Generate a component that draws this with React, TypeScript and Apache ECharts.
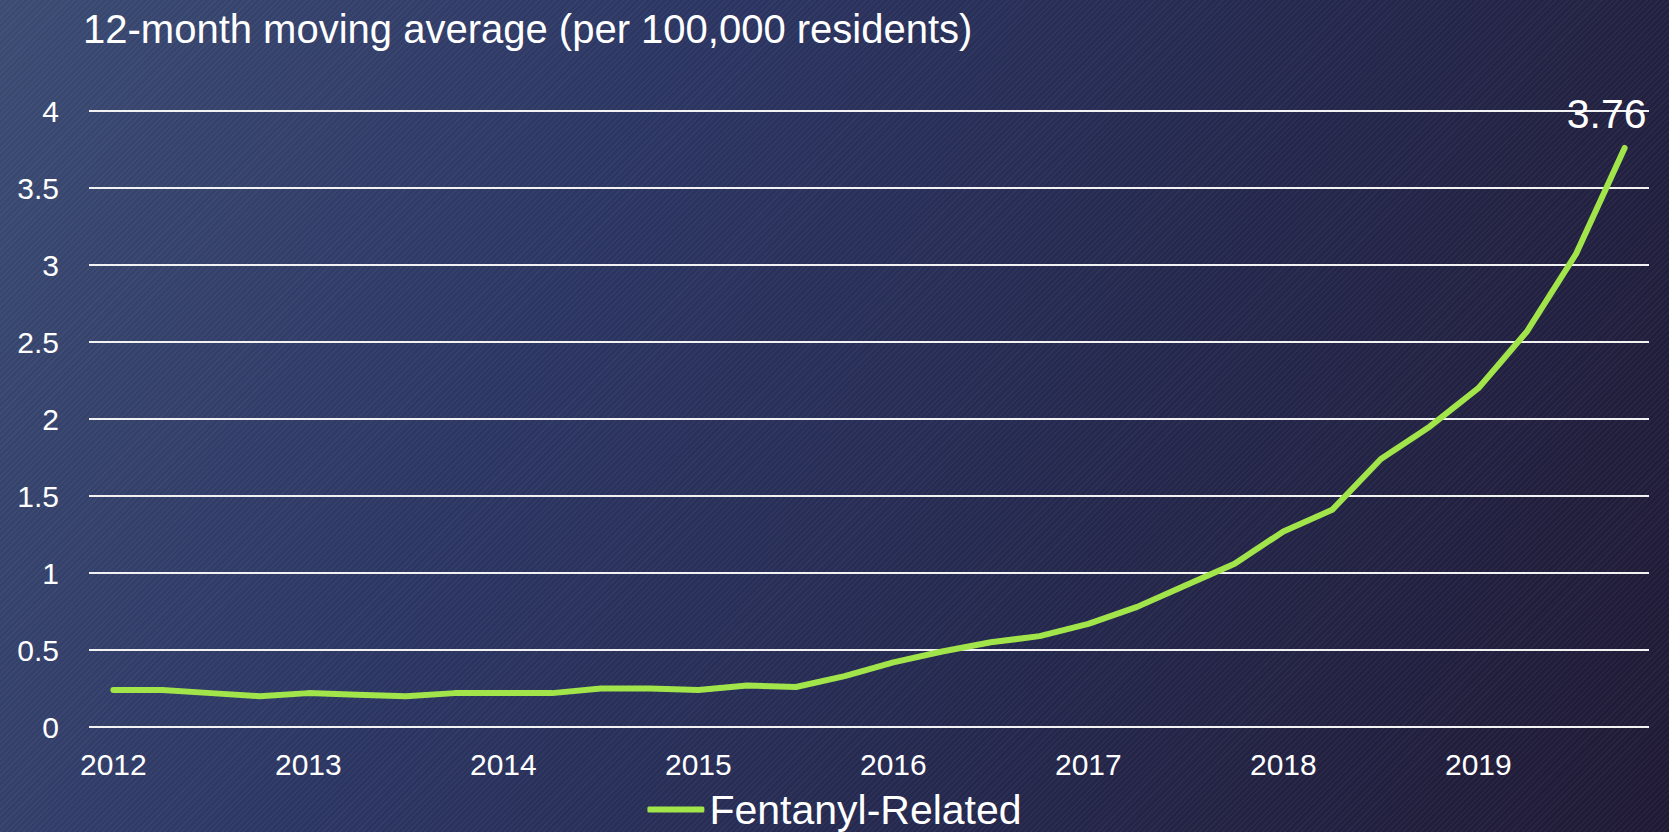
import React, { useEffect, useRef } from "react";
import * as echarts from "echarts";

const titleText = "12-month moving average (per 100,000 residents)";
const seriesName = "Fentanyl-Related";

const quarters = [
  "2012 Q1", "2012 Q2", "2012 Q3", "2012 Q4",
  "2013 Q1", "2013 Q2", "2013 Q3", "2013 Q4",
  "2014 Q1", "2014 Q2", "2014 Q3", "2014 Q4",
  "2015 Q1", "2015 Q2", "2015 Q3", "2015 Q4",
  "2016 Q1", "2016 Q2", "2016 Q3", "2016 Q4",
  "2017 Q1", "2017 Q2", "2017 Q3", "2017 Q4",
  "2018 Q1", "2018 Q2", "2018 Q3", "2018 Q4",
  "2019 Q1", "2019 Q2", "2019 Q3", "2019 Q4",
];

const fentanylRate = [
  0.24, 0.24, 0.22, 0.20,
  0.22, 0.21, 0.20, 0.22,
  0.22, 0.22, 0.25, 0.25,
  0.24, 0.27, 0.26, 0.33,
  0.42, 0.49, 0.55, 0.59,
  0.67, 0.78, 0.92, 1.06,
  1.27, 1.41, 1.74, 1.95,
  2.20, 2.57, 3.07, 3.76,
];

const yMin = 0;
const yMax = 4;
const yStep = 0.5;

const FONT = "'Liberation Sans', Arial, sans-serif";
const LINE_COLOR = "#a2e54b";

export default function App() {
  const ref = useRef<HTMLDivElement>(null);

  useEffect(() => {
    if (!ref.current) return;
    const chart = echarts.init(ref.current, undefined, { renderer: "svg" });
    const lastIdx = fentanylRate.length - 1;
    const data = fentanylRate.map((v, i) =>
      i === lastIdx
        ? {
            value: v,
            label: {
              show: true,
              position: "top",
              distance: 13,
              offset: [-18, 0],
              color: "#ffffff",
              fontSize: 41,
              fontFamily: FONT,
              formatter: (p: any) => String(p.value),
            },
          }
        : v
    );

    chart.setOption({
      animation: false,
      backgroundColor: "transparent",
      textStyle: { fontFamily: FONT },
      title: {
        text: titleText,
        left: 83,
        top: 9,
        padding: 0,
        textStyle: {
          color: "#ffffff",
          fontSize: 40,
          fontWeight: "normal",
          fontFamily: FONT,
        },
      },
      legend: {
        data: [seriesName],
        left: "center",
        top: 789,
        padding: 0,
        icon: "roundRect",
        itemWidth: 57,
        itemHeight: 6,
        textStyle: {
          color: "#ffffff",
          fontSize: 41,
          lineHeight: 38,
          fontFamily: FONT,
        },
      },
      grid: {
        left: 89,
        right: 20,
        top: 111,
        bottom: 105,
        containLabel: false,
      },
      xAxis: {
        type: "category",
        data: quarters,
        boundaryGap: true,
        axisLine: { show: false },
        axisTick: { show: false },
        splitLine: { show: false },
        axisLabel: {
          interval: 3,
          margin: 22,
          color: "#ffffff",
          fontSize: 30,
          fontFamily: FONT,
          formatter: (v: string) => v.slice(0, 4),
        },
      },
      yAxis: {
        type: "value",
        min: yMin,
        max: yMax,
        interval: yStep,
        axisLine: { show: false },
        axisTick: { show: false },
        splitLine: { show: true, lineStyle: { color: "#f2f2f2", width: 2 } },
        axisLabel: {
          margin: 30,
          color: "#ffffff",
          fontSize: 30,
          fontFamily: FONT,
          formatter: (v: number) => String(v),
        },
      },
      series: [
        {
          name: seriesName,
          type: "line",
          data,
          showSymbol: true,
          symbol: "circle",
          symbolSize: 0,
          lineStyle: { color: LINE_COLOR, width: 6, cap: "round", join: "round" },
          itemStyle: { color: LINE_COLOR },
          z: 3,
        },
      ],
    });

    return () => chart.dispose();
  }, []);

  return (
    <div
      style={{
        position: "absolute",
        left: 0,
        top: 0,
        width: 1669,
        height: 832,
        background:
          "repeating-linear-gradient(135deg, rgba(255,255,255,0.04) 0px, rgba(255,255,255,0.04) 1.5px, rgba(0,0,0,0) 1.5px, rgba(0,0,0,0) 4px), linear-gradient(115deg, #3b4b72 0%, #2c3663 33%, #25294f 62%, #1f1934 100%)",
      }}
    >
      <div ref={ref} style={{ width: 1669, height: 832 }} />
    </div>
  );
}
